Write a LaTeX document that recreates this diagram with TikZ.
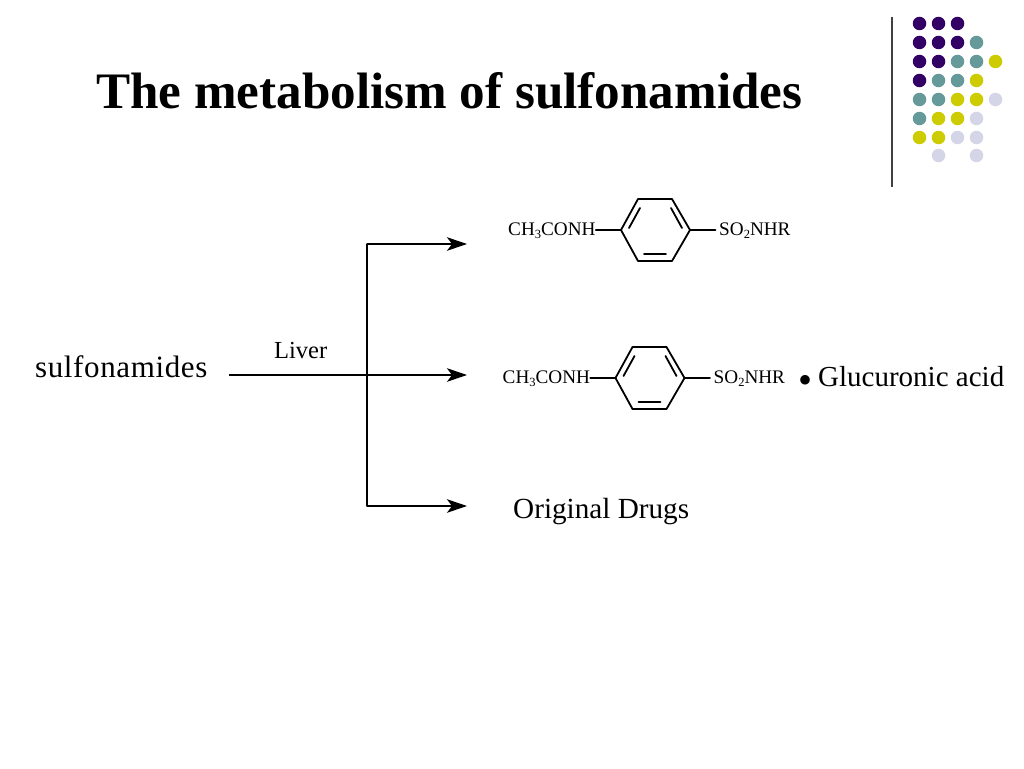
\documentclass[tikz,border=0pt]{standalone}
\usepackage{fontspec}
\setmainfont{Liberation Serif}
\usetikzlibrary{arrows.meta}
\definecolor{dotP}{HTML}{330066}
\definecolor{dotT}{HTML}{669999}
\definecolor{dotY}{HTML}{CCCC00}
\definecolor{dotL}{HTML}{D5D5E8}
\newcommand{\pxfont}[1]{\fontsize{#1}{#1}\selectfont}
\newcommand{\chemsub}[1]{\raisebox{-0.16em}{\pxfont{12.5}#1}}
\newcommand{\dotrow}[3]{\foreach \c [count=\i from 0] in {#3} {%
  \node[dotnode,fill=dot\c] (d#1-\i) at ({919.5+19*\i},#2) {};}}
\tikzset{
  x=1pt,y=-1pt,
  lbl/.style={inner sep=0pt,anchor=base west,text=black},
  dotnode/.style={circle,minimum size=13.5pt,inner sep=0pt,draw=none},
  conn/.style={line width=1.8pt,draw=black},
  flow/.style={conn,-{Stealth[length=20pt,width=13.5pt,inset=5pt]}},
  bond/.style={line width=1.8pt,draw=black,line cap=round,line join=round},
  formula/.style={lbl,font=\pxfont{19.2}},
}
\newcommand{\mol}[3]{% name, dx, dy
  \begin{scope}[shift={(#2,#3)}]
    \coordinate (#1L) at (621,230);
    \coordinate (#1TL) at (638,199);
    \coordinate (#1TR) at (672,199);
    \coordinate (#1R) at (690,230);
    \coordinate (#1BR) at (672,261);
    \coordinate (#1BL) at (638,261);
    \coordinate (#1a1) at (629,228);
    \coordinate (#1a2) at (640,208);
    \coordinate (#1b1) at (671,208);
    \coordinate (#1b2) at (682,228);
    \coordinate (#1c1) at (644,254);
    \coordinate (#1c2) at (666,254);
    \coordinate (#1rEnd) at (715.5,230);
    \node[formula] (#1left) at (508,235) {CH\chemsub{3}CONH};
    \node[formula] (#1right) at (719,235) {SO\chemsub{2}NHR};
    \draw[bond] (#1L) -- (#1TL) -- (#1TR) -- (#1R) -- (#1BR) -- (#1BL) -- cycle;
    \draw[bond] (#1a1) -- (#1a2);
    \draw[bond] (#1b1) -- (#1b2);
    \draw[bond] (#1c1) -- (#1c2);
    \draw[bond] (#1left.base east |- #1L) -- (#1L);
    \draw[bond] (#1R) -- (#1rEnd);
  \end{scope}}
\begin{document}
\begin{tikzpicture}
\useasboundingbox (0,0) rectangle (1024,768);
\fill[white] (0,0) rectangle (1024,768);
\node[lbl,font=\pxfont{51.15}\bfseries] (title) at (96,108) {The metabolism of sulfonamides};
\coordinate (ruleTop) at (892,17);
\coordinate (ruleBot) at (892,187);
\draw[line width=1.2pt,draw=black!75] (ruleTop) -- (ruleBot);
\dotrow{1}{23.5}{P,P,P}
\dotrow{2}{42.5}{P,P,P,T}
\dotrow{3}{61.5}{P,P,T,T,Y}
\dotrow{4}{80.5}{P,T,T,Y}
\dotrow{5}{99.5}{T,T,Y,Y,L}
\dotrow{6}{118.5}{T,Y,Y,L}
\dotrow{7}{137.5}{Y,Y,L,L}
\node[dotnode,fill=dotL] (d8-1) at (938.5,155.5) {};
\node[dotnode,fill=dotL] (d8-3) at (976.5,155.5) {};
\node[lbl,font=\pxfont{31}] (sulfa) at (35,377) {\addfontfeature{LetterSpace=2}sulfonamides};
\node[lbl,font=\pxfont{24.5}] (liver) at (274,358) {Liver};
\coordinate (start) at (229,375);
\coordinate (branch) at (367,375);
\coordinate (branchT) at (367,244);
\coordinate (branchB) at (367,506);
\coordinate (endT) at (467,244);
\coordinate (endM) at (467,375);
\coordinate (endB) at (467,506);
\draw[conn,line cap=round] (branchT) -- (branchB);
\draw[flow] (branchT) -- (endT);
\draw[flow] (start) -- (endM);
\draw[flow] (branchB) -- (endB);
\mol{a}{0}{0}
\mol{b}{-5.5}{148}
\node[lbl,font=\pxfont{40}] (bul) at (798,393) {•};
\node[lbl,font=\pxfont{29}] (gluc) at (818,386) {Glucuronic acid};
\node[lbl,font=\pxfont{29.2}] (orig) at (513,518) {Original Drugs};
\end{tikzpicture}
\end{document}
